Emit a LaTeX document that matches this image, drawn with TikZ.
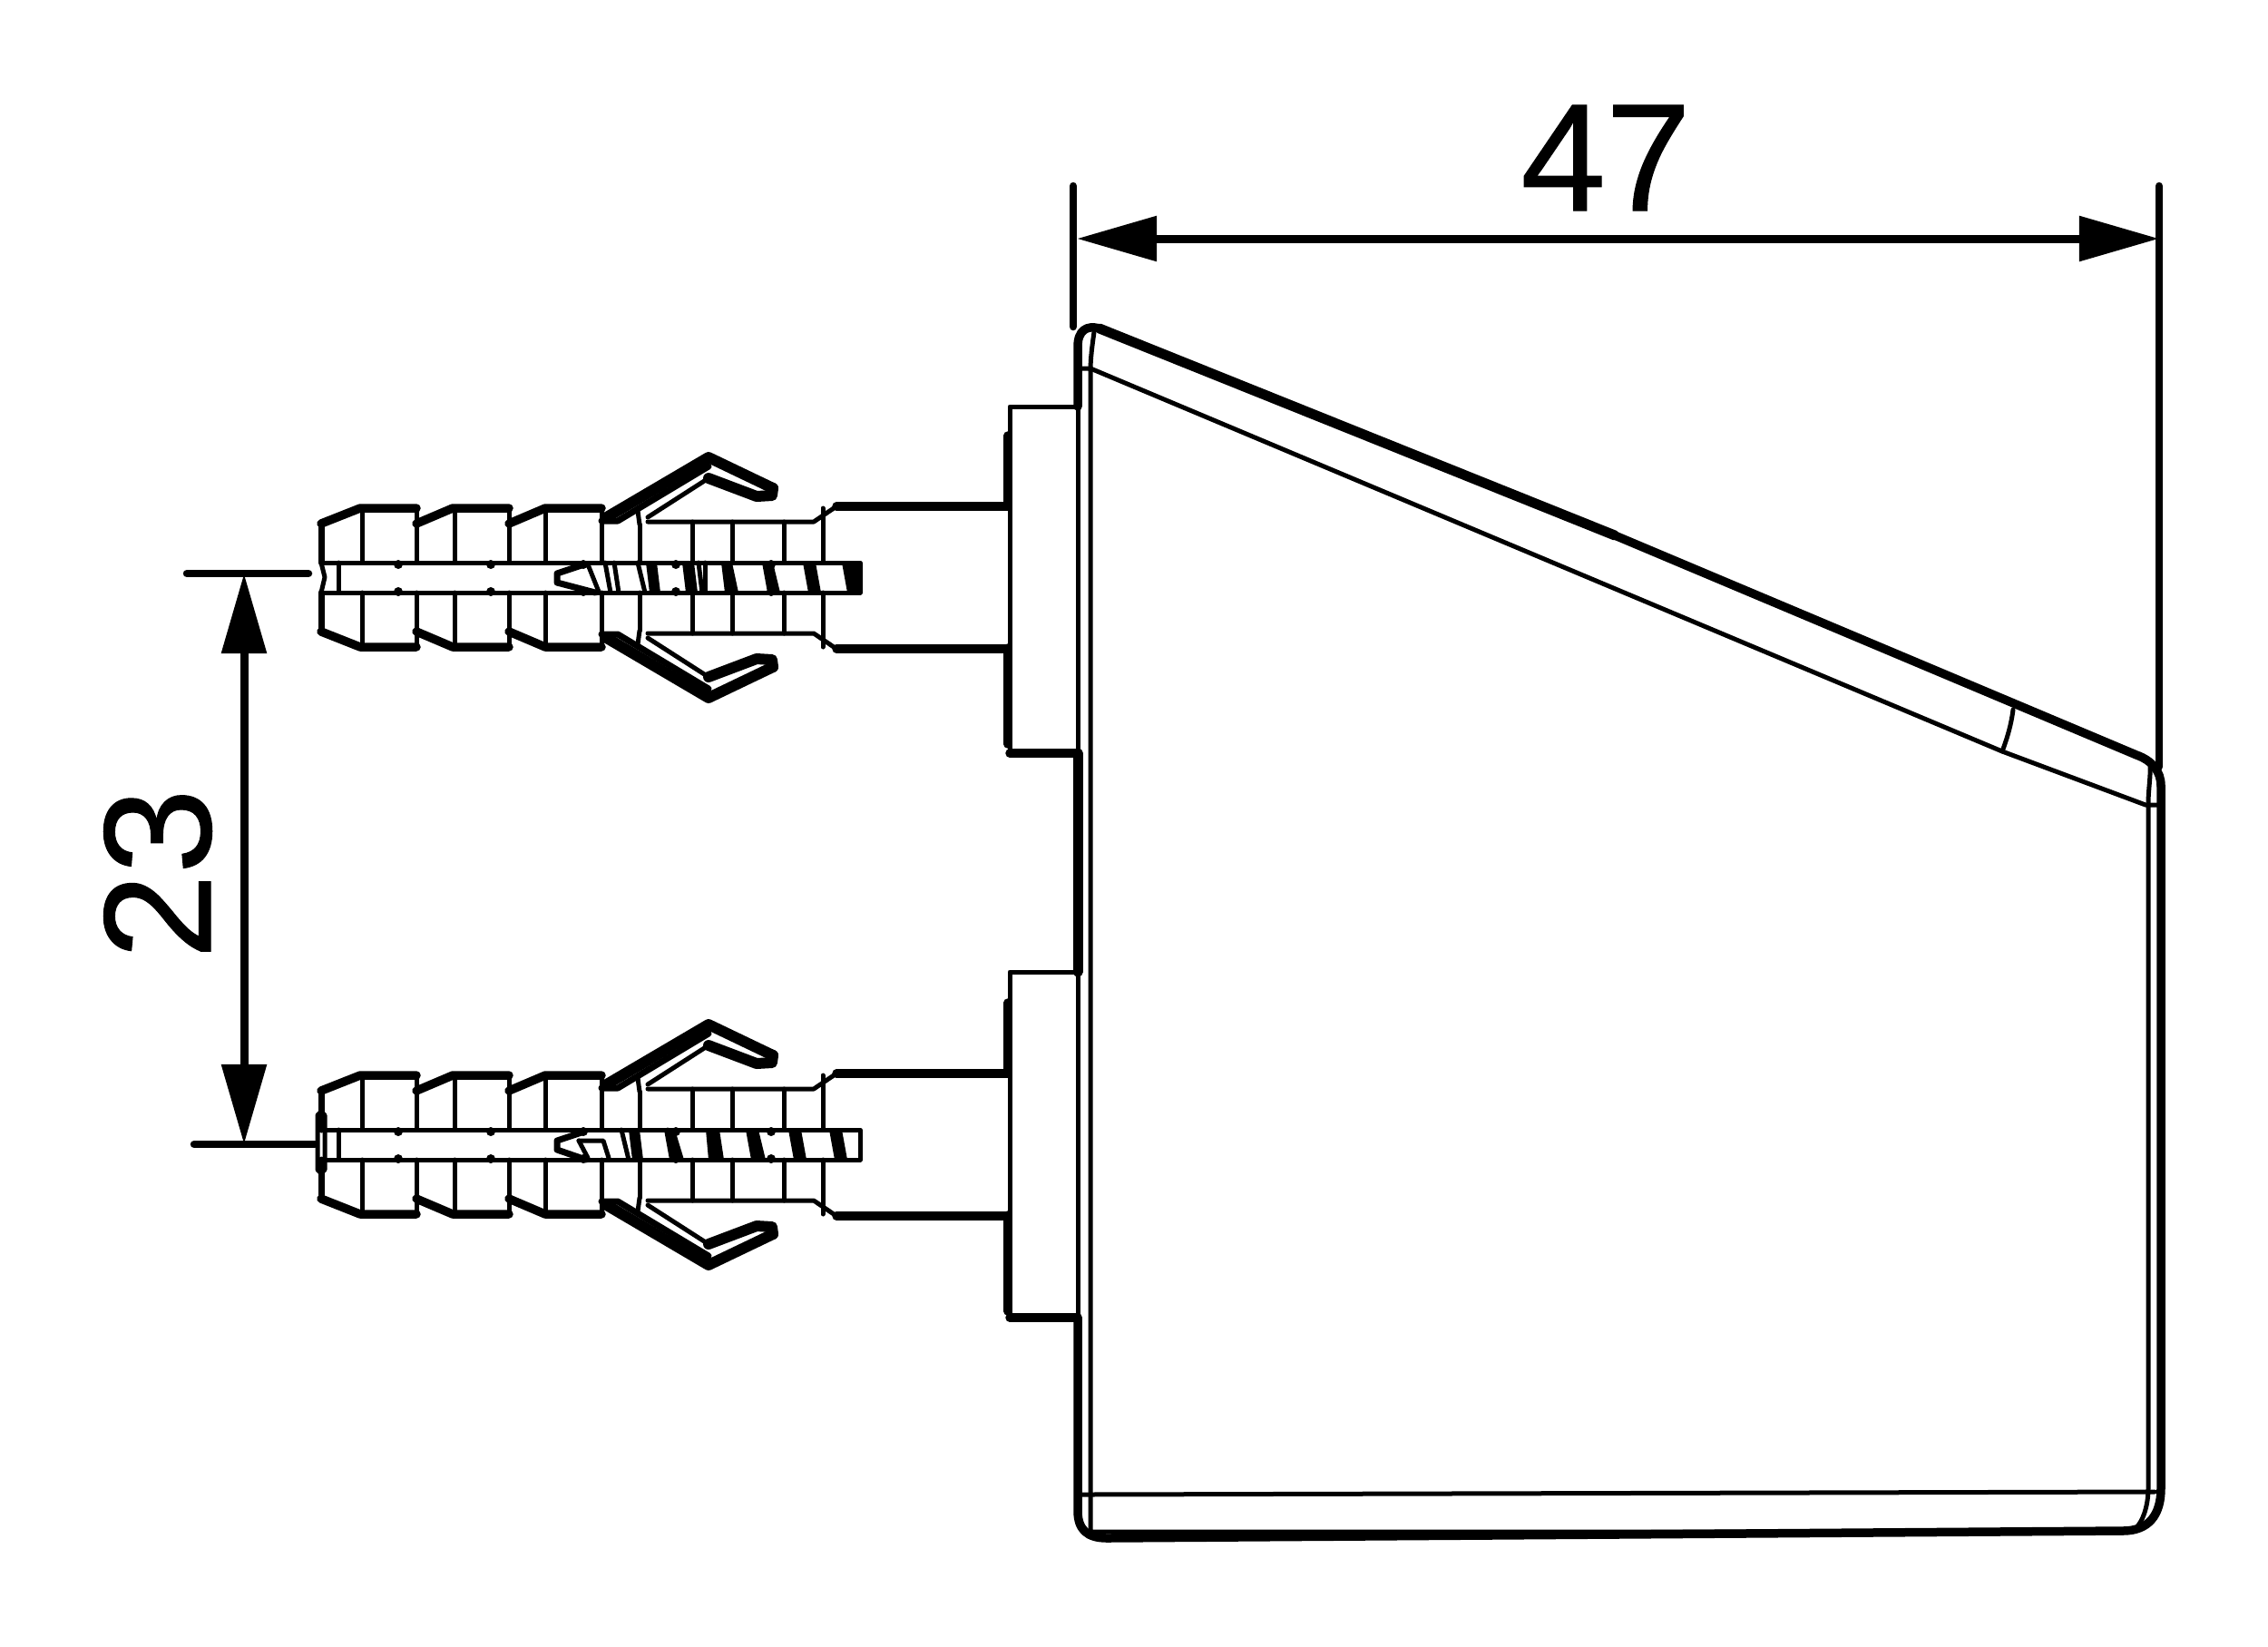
\documentclass[tikz,border=0pt]{standalone}
\usepackage{fontspec}
\setmainfont{Liberation Sans}
\usetikzlibrary{arrows.meta}
\newlength{\du}
\setlength{\du}{0.01cm}
\tikzset{
  thinline/.style={line width=5\du,line cap=round,line join=round},
  midline/.style={line width=7\du,line cap=round,line join=round},
  wideline/.style={line width=9.5\du,line cap=round,line join=round},
  barbline/.style={line width=12\du,line cap=round,line join=round},
  dimline/.style={line width=9\du,{Triangle[length=0.88cm,width=0.48cm]}-{Triangle[length=0.88cm,width=0.48cm]}},
  extline/.style={line width=8.5\du,line cap=round},
  dimtext/.style={font=\fontsize{48}{48}\selectfont\addfontfeature{FakeBold=0.6},inner sep=0pt},
  spot/.style={fill=black,draw=none}
}
% one half of the dowel, mirrored with the scope around it
\newcommand{\dowelhalf}{
\draw[wideline] (354\du,577\du)--(397\du,560\du)--(459\du,560\du);
\draw[wideline] (459\du,577\du)--(499\du,560\du)--(561\du,560\du);
\draw[wideline] (561\du,577\du)--(601\du,560\du)--(663\du,560\du);
\draw[midline] (354\du,577\du)--(354\du,620\du);
\draw[thinline] (459\du,560\du)--(459\du,620\du);
\draw[thinline] (561\du,560\du)--(561\du,620\du);
\draw[thinline] (663\du,560\du)--(663\du,620\du);
\draw[thinline] (399\du,560\du)--(399\du,620\du);
\draw[thinline] (501\du,560\du)--(501\du,620\du);
\draw[thinline] (601\du,560\du)--(601\du,620\du);
\draw[thinline] (705\du,578\du)--(705\du,620\du);
\draw[thinline] (763\du,575\du)--(763\du,620\du);
\draw[thinline] (807\du,575\du)--(807\du,620\du);
\draw[thinline] (864\du,575\du)--(864\du,620\du);
\draw[thinline] (907\du,560\du)--(907\du,620\du);
\draw[thinline] (714\du,575\du)--(897\du,575\du)--(922\du,558\du);
% the barb
\draw[barbline] (667\du,571\du)--(781\du,504\du)--(852\du,538\du);
\draw[barbline] (852\du,538\du)--(851\du,546\du)--(834\du,547\du)--(781\du,527\du);
\draw[thinline] (781\du,527\du)--(714\du,570\du);
\draw[midline] (663\du,574\du)--(681\du,574\du)--(781\du,514\du);
\draw[thinline] (703\du,563\du)--(705\du,578\du);
% the shaft
\draw[wideline] (922\du,558\du)--(1111\du,558\du);
}
% thread stripe from the upper to the lower rod line
\newcommand{\rodstripe}[4]{
\fill (#1\du,620\du) -- (#2\du,620\du) -- (#4\du,653\du) -- (#3\du,653\du) -- cycle;
}
\begin{document}
\begin{tikzpicture}
\pgftransformyscale{-1}
\useasboundingbox (0\du,0\du) rectangle (2500\du,1814\du);
% upper dowel
\dowelhalf
\begin{scope}[yscale=-1,yshift=-1273\du]
\dowelhalf
\end{scope}
\draw[thinline] (354\du,620\du)--(948\du,620\du)--(948\du,653\du)--(354\du,653\du);
\draw[thinline] (373\du,620\du)--(373\du,653\du);
\draw[thinline] (354\du,620\du)--(358\du,636\du)--(354\du,653\du);
\draw[midline] (644\du,622\du)--(614\du,632\du)--(614\du,642\du)--(656\du,653\du);
\draw[thinline] (648\du,622\du)--(660\du,652\du);
\draw[thinline] (667\du,620\du)--(673\du,653\du);
\draw[thinline] (677\du,620\du)--(682\du,653\du);
\draw[thinline] (703\du,620\du)--(711\du,653\du);
\draw[thinline] (770\du,620\du)--(774\du,653\du);
\draw[thinline] (777\du,620\du)--(777\du,653\du);
\rodstripe{712}{724}{716}{728}
\rodstripe{752}{765}{756}{769}
\rodstripe{795}{807}{799}{814}
\rodstripe{840}{852}{846}{860}
\rodstripe{885}{899}{891}{905}
\rodstripe{928}{948}{934}{948}
\foreach \dotx in {439,541,643,745,850} {
  \fill[spot] (\dotx\du,622\du) circle (5\du);
  \fill[spot] (\dotx\du,652\du) circle (5\du);
}
% lower dowel
\begin{scope}[yshift=625\du]
\dowelhalf
\end{scope}
\begin{scope}[yscale=-1,yshift=-1898\du]
\dowelhalf
\end{scope}
\begin{scope}[yshift=625\du]
\draw[thinline] (354\du,620\du)--(948\du,620\du)--(948\du,653\du)--(354\du,653\du);
\draw[thinline] (373\du,620\du)--(373\du,653\du);
\draw[thinline] (350\du,604\du)--(354\du,600\du)--(358\du,604\du)--(358\du,664\du)--(354\du,668\du)--(350\du,664\du)--cycle;
\draw[midline] (644\du,622\du)--(614\du,632\du)--(614\du,642\du)--(646\du,653\du);
\draw[thinline] (638\du,632\du)--(665\du,632\du)--(671\du,651\du);
\draw[thinline] (638\du,632\du)--(648\du,651\du);
\draw[thinline] (685\du,620\du)--(693\du,653\du);
\draw[thinline] (736\du,620\du)--(742\du,653\du);
\rodstripe{693}{705}{697}{709}
\rodstripe{732}{744}{738}{754}
\rodstripe{778}{793}{781}{798}
\rodstripe{822}{836}{828}{844}
\rodstripe{869}{883}{875}{889}
\rodstripe{914}{928}{920}{934}
\foreach \dotx in {439,541,643,745,850} {
  \fill[spot] (\dotx\du,622\du) circle (5\du);
  \fill[spot] (\dotx\du,652\du) circle (5\du);
}
\end{scope}
% wall plates
\draw[thinline] (1188\du,448\du)--(1113\du,448\du)--(1113\du,830\du);
\draw[wideline] (1111\du,480\du)--(1111\du,558\du);
\draw[wideline] (1111\du,714\du)--(1111\du,820\du);
\draw[wideline] (1113\du,830\du)--(1188\du,830\du);
\draw[thinline] (1188\du,1071\du)--(1113\du,1071\du)--(1113\du,1452\du);
\draw[wideline] (1111\du,1105\du)--(1111\du,1183\du);
\draw[wideline] (1111\du,1339\du)--(1111\du,1445\du);
\draw[wideline] (1113\du,1452\du)--(1188\du,1452\du);
% housing
\draw[wideline] (1188\du,448\du)--(1188\du,382\du) .. controls (1188\du,364\du) and (1198\du,358\du) .. (1212\du,362\du);
\draw[line width=11\du,line cap=round] (1212\du,362\du)--(1780\du,590\du);
\draw[wideline] (1780\du,590\du)--(2355\du,832\du) .. controls (2372\du,838\du) and (2382\du,850\du) .. (2382\du,866\du);
\draw[wideline] (2382\du,866\du)--(2382\du,1640\du) .. controls (2382\du,1670\du) and (2368\du,1687\du) .. (2340\du,1687\du)--(1220\du,1695\du) .. controls (1198\du,1695\du) and (1188\du,1685\du) .. (1188\du,1665\du)--(1188\du,1452\du);
\draw[line width=11\du,line cap=round] (1188\du,830\du)--(1188\du,1071\du);
\draw[thinline] (1188\du,448\du)--(1188\du,830\du);
\draw[thinline] (1188\du,1071\du)--(1188\du,1452\du);
\draw[thinline] (1202\du,408\du)--(1202\du,1688\du)--(2345\du,1688\du) .. controls (2358\du,1688\du) and (2368\du,1665\du) .. (2368\du,1640\du)--(2368\du,885\du) .. controls (2368\du,870\du) and (2371\du,855\du) .. (2370\du,840\du);
\draw[thinline] (1206\du,366\du) .. controls (1204\du,380\du) and (1202\du,395\du) .. (1202\du,408\du);
\draw[thinline] (1188\du,406\du)--(1202\du,406\du)--(2207\du,828\du)--(2365\du,887\du)--(2382\du,887\du);
\draw[thinline] (2219\du,782\du) .. controls (2217\du,798\du) and (2213\du,812\du) .. (2207\du,828\du);
\draw[thinline] (1193\du,1647\du)--(2375\du,1644\du);
% dimensions
\coordinate (widthleft) at (1187\du,263\du);
\coordinate (widthright) at (2380\du,263\du);
\coordinate (pitchtop) at (269\du,632\du);
\coordinate (pitchbottom) at (269\du,1261\du);
\draw[extline] (1183\du,205\du)--(1183\du,360\du);
\draw[extline] (2380\du,205\du)--(2380\du,845\du);
\draw[dimline] (widthleft)--(widthright);
\node[dimtext] (widthlabel) at (1770\du,174\du) {47};
\draw[extline] (206\du,632\du)--(340\du,632\du);
\draw[extline] (214\du,1261\du)--(347\du,1261\du);
\draw[dimline] (pitchtop)--(pitchbottom);
\node[dimtext,rotate=90] (pitchlabel) at (174\du,963\du) {23};
\end{tikzpicture}
\end{document}
